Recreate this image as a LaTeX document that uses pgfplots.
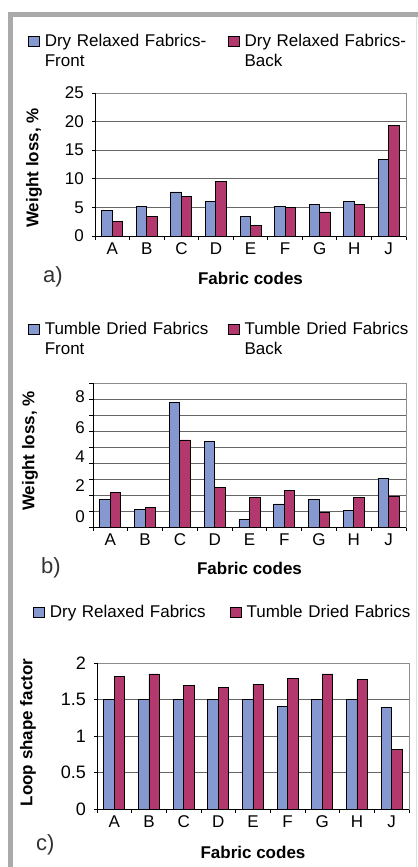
\documentclass[border=0pt]{standalone}
\usepackage{fontspec}
\setmainfont{Liberation Sans}
\usepackage{pgfplots}
\pgfplotsset{compat=1.18}
\definecolor{barblue}{RGB}{134,152,208}
\definecolor{barred}{RGB}{178,56,110}
\definecolor{framegray}{RGB}{170,170,170}
\pgfplotsset{
  sq/.style={legend image code/.code={\draw[##1, line width=0.8bp] (0bp,0bp) rectangle (11bp,10bp);}},
  panel/.style={
    scale only axis, ybar=0pt, bar width=10.5bp,
    xmin=-0.5, xmax=8.5, xtick={0,...,8}, xticklabels={A,B,C,D,E,F,G,H,J},
    minor xtick={-0.5,0.5,...,8.5},
    tick align=outside, tick pos=left,
    major tick length=3bp, minor tick length=3.5bp,
    tick style={black, line width=0.8bp},
    major x tick style={draw=none},
    major grid style={black!60, line width=0.8bp},
    minor grid style={black!60, line width=0.8bp},
    axis line style={black!45, line width=0.8bp},
    font=\fontsize{17bp}{20bp}\selectfont,
    yticklabel style={inner sep=8bp},
    xlabel={Fabric codes},
    xlabel style={font=\fontsize{17bp}{20bp}\selectfont\bfseries, anchor=base},
    ylabel style={font=\fontsize{17bp}{20bp}\selectfont\bfseries, anchor=center},
    every axis plot/.append style={line width=0.9bp, draw=black},
    legend columns=2,
    legend style={draw=none, fill=none, anchor=north west, inner sep=0pt, outer sep=0pt,
      row sep=0pt, cells={anchor=base west},
      nodes={inner sep=0pt, text width=168bp, align=left, anchor=base west},
      /tikz/every odd column/.append style={column sep=5bp},
      /tikz/every even column/.append style={column sep=15bp}},
    clip=false,
  }
}
\begin{document}
\begin{tikzpicture}
\fill[white] (0,0) rectangle (418bp,-867bp);
\useasboundingbox (0,0) rectangle (418bp,-867bp);
\fill[framegray] (8bp,-12bp) rectangle (418bp,-17bp);
\fill[framegray] (8bp,-12bp) rectangle (13bp,-867bp);
\draw[black!12, line width=1bp] (416bp,-17bp) -- (416bp,-867bp);

% ---------- panel a ----------
\begin{axis}[panel, at={(95bp,-236bp)}, anchor=south west, width=311bp, height=143bp,
  ymin=0, ymax=25, ytick={0,5,...,25}, yticklabels={0,5,10,15,20,25}, ymajorgrids,
  legend style={at={(axis description cs:-0.2154,1.409)}},
  ylabel={Weight loss, \%}, ylabel style={at={(axis description cs:-0.196,0.4755)}},
  xlabel style={at={(axis description cs:0.5,-0.3357)}}]
\addplot[fill=barblue, sq] coordinates {(0,4.47) (1,5.2) (2,7.7) (3,6.1) (4,3.36) (5,5.2) (6,5.57) (7,6.1) (8,13.45)};
\addlegendentry{Dry Relaxed Fabrics-\\Front}
\addplot[fill=barred, sq] coordinates {(0,2.55) (1,3.36) (2,6.9) (3,9.6) (4,1.9) (5,5.0) (6,4.2) (7,5.57) (8,19.26)};
\addlegendentry{Dry Relaxed Fabrics-\\Back}
\draw[black, line width=0.9bp] (rel axis cs:0,1) -- (rel axis cs:0,0) -- (rel axis cs:1,0);
\end{axis}

% ---------- panel b ----------
\begin{axis}[panel, at={(93bp,-527bp)}, anchor=south west, width=313bp, height=144bp,
  ymin=0, ymax=9, ytick={0.62,2.6,4.37,6.23,8.17}, yticklabels={0,2,4,6,8},
  yticklabel style={inner sep=5bp},
  major y tick style={draw=none},
  minor ytick={0,...,9}, yminorgrids,
  legend style={at={(axis description cs:-0.2077,1.42)}},
  ylabel={Weight loss, \%}, ylabel style={at={(axis description cs:-0.2013,0.528)}},
  xlabel style={at={(axis description cs:0.5,-0.333)}}]
\addplot[fill=barblue, sq] coordinates {(0,1.75) (1,1.1) (2,7.77) (3,5.33) (4,0.5) (5,1.44) (6,1.75) (7,1.02) (8,3.06)};
\addlegendentry{Tumble Dried Fabrics\\Front}
\addplot[fill=barred, sq] coordinates {(0,2.17) (1,1.2) (2,5.44) (3,2.46) (4,1.83) (5,2.27) (6,0.92) (7,1.83) (8,1.94)};
\addlegendentry{Tumble Dried Fabrics\\Back}
\draw[black, line width=0.9bp] (rel axis cs:0,1) -- (rel axis cs:0,0) -- (rel axis cs:1,0);
\end{axis}

% ---------- panel c ----------
\begin{axis}[panel, at={(97bp,-809bp)}, anchor=south west, width=312bp, height=146bp,
  ymin=0, ymax=2, ytick={0,0.5,...,2}, yticklabels={0,0.5,1,1.5,2}, ymajorgrids,
  yticklabel style={font=\fontsize{18bp}{20bp}\selectfont},
  legend style={at={(axis description cs:-0.205,1.394)},
    nodes={text width=166bp},
    /tikz/every even column/.append style={column sep=14bp}},
  ylabel={Loop shape factor}, ylabel style={at={(axis description cs:-0.221,0.524)}},
  xlabel style={at={(axis description cs:0.5,-0.3356)}}]
\addplot[fill=barblue, sq] coordinates {(0,1.5) (1,1.5) (2,1.5) (3,1.5) (4,1.5) (5,1.41) (6,1.5) (7,1.5) (8,1.385)};
\addlegendentry{Dry Relaxed Fabrics}
\addplot[fill=barred, sq] coordinates {(0,1.81) (1,1.85) (2,1.69) (3,1.67) (4,1.71) (5,1.79) (6,1.85) (7,1.77) (8,0.81)};
\addlegendentry{Tumble Dried Fabrics}
\draw[black, line width=0.9bp] (rel axis cs:0,1) -- (rel axis cs:0,0) -- (rel axis cs:1,0);
\end{axis}

\node[anchor=base west, font=\fontsize{22bp}{24bp}\selectfont, text=black!80, inner sep=0pt] at (43bp,-282bp) {a)};
\node[anchor=base west, font=\fontsize{22bp}{24bp}\selectfont, text=black!80, inner sep=0pt] at (41bp,-573bp) {b)};
\node[anchor=base west, font=\fontsize{22bp}{24bp}\selectfont, text=black!80, inner sep=0pt] at (36bp,-850bp) {c)};
\end{tikzpicture}
\end{document}
